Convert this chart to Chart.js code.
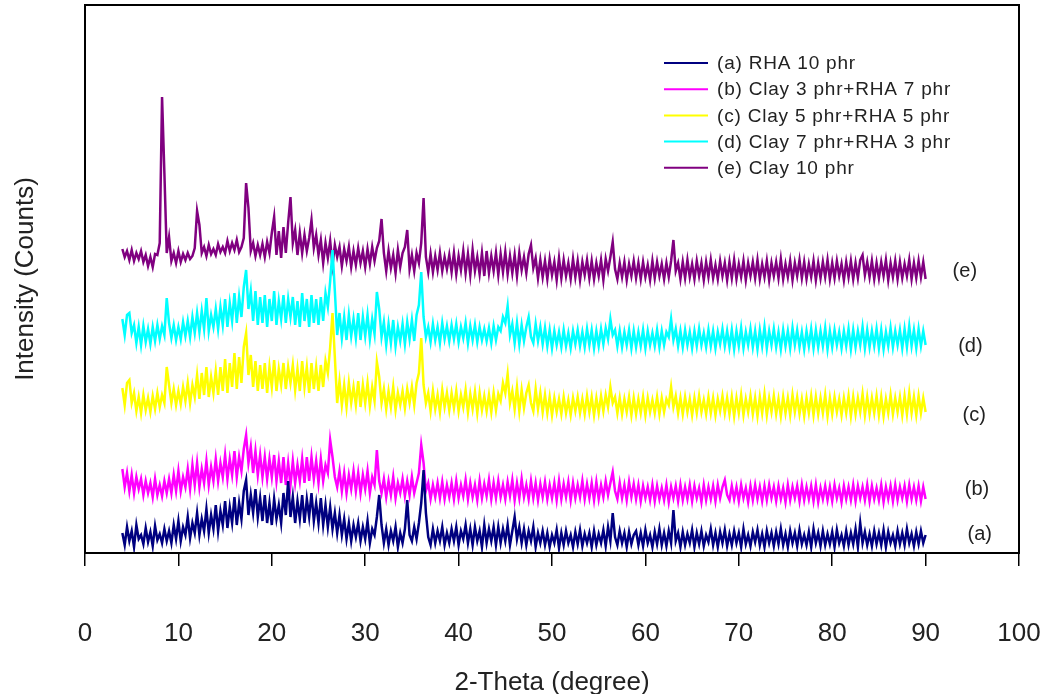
<!DOCTYPE html>
<html><head><meta charset="utf-8">
<script src="https://cdn.jsdelivr.net/npm/chart.js@4/dist/chart.umd.min.js"></script>
<style>html,body{margin:0;padding:0;background:#fff}canvas{display:block}</style>
</head><body>
<canvas id="c" width="1050" height="694"></canvas>
<script>
// 2-Theta sampling: 4° to 90°, every 0.25°
const angleStart = 4;
const angleStep = 0.25;

const seriesLabels = ['(a) RHA 10 phr', '(b) Clay 3 phr+RHA 7 phr', '(c) Clay 5 phr+RHA 5 phr', '(d) Clay 7 phr+RHA 3 phr', '(e) Clay 10 phr'];
const seriesColors = ['#000080', '#FF00FF', '#FFFF00', '#00FFFF', '#800080'];
const sideTags = ['(a)', '(b)', '(c)', '(d)', '(e)'];
const sideTagX = [95.8, 95.5, 95.2, 94.8, 94.2];
const sideTagY = [19, 64, 138, 207, 282];
const xTicks = [0, 10, 20, 30, 40, 50, 60, 70, 80, 90, 100];

// intensity (offset counts)
const rha10 = [
20,8,26,12,22,6,28,14,18,9,25,11,21,7,27,13,19,10,24,12,
22,10,28,14,32,12,26,18,36,15,30,20,40,18,34,22,44,20,38,24,
48,22,42,28,52,25,46,30,56,28,50,34,62,73,38,58,40,64,36,55,
32,58,30,50,28,54,34,48,30,60,38,72,36,56,30,52,34,58,30,54,
36,60,32,50,30,55,28,48,26,46,24,40,20,38,18,34,14,30,12,28,
16,30,12,26,14,32,10,24,18,36,58,28,10,24,8,22,12,26,6,20,
10,24,53,18,12,26,14,30,50,83,40,16,8,24,10,22,12,26,8,20,
10,24,12,26,8,22,14,28,10,24,8,26,12,22,6,28,10,24,12,26,
8,26,10,24,12,28,8,22,36,14,26,10,24,8,22,12,26,6,20,10,
22,8,20,6,18,10,23,5,20,8,22,10,18,6,21,9,23,7,19,10,
20,6,22,8,19,10,23,7,26,12,40,16,8,22,10,20,6,21,9,18,
22,8,20,7,23,10,18,6,21,9,24,8,20,7,22,10,43,12,20,6,
21,8,19,10,23,6,20,9,22,7,18,11,24,8,20,6,21,10,23,7,
19,8,22,10,20,6,24,9,18,7,21,11,23,8,19,6,22,10,20,7,
21,9,24,8,19,6,22,10,20,7,23,9,18,8,21,6,24,10,20,7,
22,8,19,9,21,6,23,10,18,7,22,8,20,9,24,6,30,10,21,8,
19,7,22,9,20,8,23,6,21,10,18,7,22,9,20,8,24,10,19,7,
21,9,22,10,18];

const clay3rha7 = [
84,66,80,62,78,60,76,64,74,58,72,60,70,56,74,58,68,57,72,60,
74,60,78,62,82,62,76,66,84,64,88,68,90,66,84,70,92,68,86,72,
94,72,90,76,98,74,94,78,102,76,96,82,104,118,90,106,80,102,78,98,
76,96,74,94,76,98,72,92,70,96,68,90,68,92,70,88,72,94,70,96,
72,96,74,92,70,94,72,88,80,113,96,76,66,82,62,80,60,78,64,82,
62,80,60,78,64,82,60,76,68,103,72,60,74,56,72,58,76,55,70,60,
74,57,72,58,76,60,70,80,108,90,62,70,54,68,56,70,55,71,54,68,
56,70,54,72,55,68,57,73,54,70,56,68,53,72,55,69,57,73,54,70,
55,72,56,68,54,71,57,73,53,70,55,74,56,68,54,72,55,70,53,69,
56,71,54,68,55,70,53,72,54,69,56,71,53,70,55,68,56,72,54,69,
55,70,53,71,54,68,56,72,58,70,81,62,54,70,55,68,53,71,56,69,
54,68,52,67,55,66,53,68,52,67,54,65,53,68,51,66,55,67,52,68,
53,66,54,68,52,67,55,65,51,68,53,66,54,67,52,68,55,66,73,58,
53,67,54,66,52,68,55,65,51,67,53,68,54,66,52,67,53,68,55,66,
52,67,54,65,51,68,53,66,55,67,52,68,53,66,54,67,52,68,51,65,
54,67,53,66,52,68,55,65,51,67,54,66,53,68,52,67,55,66,53,68,
52,67,54,65,53,68,51,66,54,67,52,68,53,66,55,67,52,68,54,66,
53,67,52,66,54];

const clay5rha5 = [
165,148,170,173,150,160,142,156,140,158,143,155,141,157,144,160,146,158,150,186,
168,150,164,148,162,149,166,152,170,150,168,156,178,154,180,158,186,156,176,160,
182,158,186,162,194,160,190,166,200,164,196,170,206,220,178,198,166,192,162,188,
164,190,160,186,166,193,162,184,168,190,164,186,170,188,163,184,162,192,166,186,
160,190,164,186,162,188,166,192,180,206,240,196,150,172,148,168,146,170,150,166,
148,172,146,168,150,170,147,166,152,191,176,150,164,144,162,146,166,143,160,148,
162,145,164,150,166,148,170,180,215,168,150,160,142,162,144,158,141,163,146,160,
143,160,145,162,142,158,146,163,141,159,144,161,140,160,143,157,142,158,141,160,
143,159,152,170,160,179,150,162,144,166,142,163,145,160,168,150,142,164,144,160,
141,158,140,156,138,155,141,154,139,156,140,153,138,155,142,156,140,154,139,157,
141,156,138,155,140,157,142,158,146,166,150,156,140,155,139,154,141,156,138,155,
139,154,140,156,138,155,141,153,140,156,139,155,141,154,148,166,146,157,140,155,
139,156,141,154,138,155,140,157,141,153,139,156,140,155,138,154,142,157,140,155,
139,156,137,155,140,158,138,154,141,157,139,155,137,156,140,159,138,155,141,157,
139,154,137,156,140,155,138,158,141,156,139,154,137,155,140,157,138,156,139,155,
140,158,137,155,139,156,141,154,138,155,140,157,137,156,139,155,141,159,138,156,
139,155,140,157,138,156,137,154,140,158,139,155,141,156,138,157,139,160,140,156,
138,157,140,155,141];

const clay7rha3 = [
234,218,238,240,220,228,210,226,208,227,211,224,209,226,212,228,214,227,218,255,
230,215,228,213,226,214,231,217,232,216,236,220,240,221,242,224,255,222,238,226,
244,224,246,228,254,226,250,232,260,230,256,236,266,283,244,262,232,262,228,256,
230,258,226,254,232,262,228,252,234,258,230,254,236,256,228,252,226,260,232,254,
226,258,230,254,228,256,232,260,246,272,303,262,218,240,215,236,213,238,217,234,
215,240,213,236,217,238,214,234,219,261,244,216,231,208,229,210,233,207,226,212,
229,209,231,214,233,212,238,248,281,236,216,226,211,229,213,226,210,230,214,227,
212,228,214,229,211,226,215,230,210,227,213,228,211,226,213,224,212,225,210,227,
213,226,222,236,230,247,218,229,210,230,209,228,212,226,236,216,210,229,212,226,
209,225,207,223,205,222,208,221,206,223,207,220,205,222,209,223,207,221,206,224,
208,223,205,222,207,224,209,225,214,234,218,223,207,222,206,221,208,223,205,222,
206,221,207,223,205,222,208,220,207,223,206,222,208,221,216,234,213,224,207,222,
206,223,208,221,205,222,207,224,208,220,206,223,207,222,205,221,209,224,207,222,
206,223,204,222,207,225,205,221,208,224,206,222,204,223,207,226,205,222,208,224,
206,221,204,223,207,222,205,225,208,223,206,221,204,222,207,224,205,223,206,222,
207,225,204,222,206,223,208,221,205,222,207,224,204,223,206,222,208,226,205,223,
206,222,207,224,205,223,204,221,207,225,206,222,208,223,205,224,206,227,207,223,
205,224,207,222,208];

const clay10 = [
304,296,302,293,303,292,300,294,302,291,298,287,296,286,299,298,310,456,380,300,
316,292,300,290,302,291,299,293,300,294,297,305,342,328,300,306,297,308,299,304,
298,309,301,306,300,312,302,310,303,313,301,306,315,370,345,302,310,297,308,298,
309,296,311,300,320,336,298,322,295,326,300,330,356,310,323,298,320,300,318,302,
315,333,305,318,298,313,290,310,295,312,288,308,296,306,287,304,292,306,286,302,
288,305,290,302,286,304,289,306,292,305,312,334,300,282,302,285,298,280,303,286,
300,306,323,284,298,282,300,290,310,355,296,281,299,281,297,283,300,282,296,284,
298,281,300,279,297,283,302,280,299,278,303,282,296,279,300,277,302,280,297,282,
300,278,299,281,301,279,297,280,298,277,300,283,296,280,299,308,285,295,275,293,
276,292,274,294,278,291,273,295,275,293,277,290,274,294,276,292,273,291,278,293,
275,292,274,290,277,293,273,294,282,296,311,284,274,290,276,291,273,289,277,292,
275,290,274,291,276,288,273,292,275,291,277,289,274,290,276,292,313,282,290,274,
291,275,293,276,289,274,292,277,290,273,291,276,293,275,288,274,292,277,290,273,
291,275,293,274,289,276,292,273,290,277,291,275,293,274,289,276,292,273,290,277,
291,275,294,274,289,276,292,273,290,277,293,275,291,274,289,276,292,273,290,275,
291,276,293,274,290,275,292,277,289,273,291,276,292,274,290,275,293,298,278,291,
276,292,274,290,275,291,277,293,273,290,276,292,274,291,275,289,277,293,274,290,
275,292,276,291,274];

const allSeries = [rha10, clay3rha7, clay5rha5, clay7rha3, clay10];
const angles = rha10.map((_, i) => angleStart + i * angleStep);

const FONT = '"Liberation Sans", Arial, sans-serif';
const TEXT = '#222';

const decor = {
  id: 'decor',
  afterDatasetsDraw(chart) {
    const {ctx, chartArea: a, scales} = chart;
    ctx.save();
    ctx.strokeStyle = '#000';
    ctx.lineWidth = 2;
    ctx.strokeRect(a.left, a.top, a.right - a.left, a.bottom - a.top);
    // curve tags on the right
    ctx.fillStyle = TEXT;
    ctx.font = '20px ' + FONT;
    ctx.textAlign = 'center';
    ctx.textBaseline = 'middle';
    sideTags.forEach((t, i) => {
      ctx.fillText(t, scales.x.getPixelForValue(sideTagX[i]), scales.y.getPixelForValue(sideTagY[i]));
    });
    // legend inside plot
    const lx = 664, ly = 63, row = 26.2, len = 44;
    ctx.textAlign = 'left';
    ctx.font = '19px ' + FONT;
    if ('letterSpacing' in ctx) ctx.letterSpacing = '0.8px';
    chart.data.datasets.forEach((ds, i) => {
      const y = ly + i * row;
      ctx.strokeStyle = ds.borderColor;
      ctx.lineWidth = 2;
      ctx.beginPath(); ctx.moveTo(lx, y); ctx.lineTo(lx + len, y); ctx.stroke();
      ctx.fillStyle = TEXT;
      ctx.fillText(ds.label, lx + len + 9, y + 1);
    });
    ctx.restore();
  }
};

new Chart(document.getElementById('c'), {
  type: 'line',
  data: {
    datasets: allSeries.map((vals, k) => ({
      label: seriesLabels[k],
      data: vals.map((v, i) => ({x: angles[i], y: v})),
      borderColor: seriesColors[k],
      backgroundColor: seriesColors[k],
      borderWidth: 2.5,
      pointRadius: 0,
      tension: 0,
      fill: false
    }))
  },
  options: {
    responsive: false,
    animation: false,
    devicePixelRatio: 1,
    layout: {padding: {top: 5, right: 31, left: 0, bottom: 0}},
    plugins: {legend: {display: false}, tooltip: {enabled: false}},
    scales: {
      x: {
        type: 'linear', min: 0, max: 100,
        afterBuildTicks: s => { s.ticks = xTicks.map(v => ({value: v})); },
        afterFit: s => { s.height = 141; s.paddingLeft = 0; s.paddingRight = 0; },
        border: {display: false},
        grid: {drawOnChartArea: false, drawTicks: true, tickLength: 13, color: '#000', lineWidth: 1.5},
        ticks: {font: {family: FONT, size: 26}, color: TEXT, padding: 52, maxRotation: 0},
        title: {display: true, text: '2-Theta (degree)', font: {family: FONT, size: 26}, color: TEXT, padding: {top: 0, bottom: -4}}
      },
      y: {
        min: 0, max: 548,
        afterFit: s => { s.width = 85; s.paddingTop = 0; s.paddingBottom = 0; },
        border: {display: false},
        grid: {display: false},
        ticks: {display: false},
        title: {display: true, text: 'Intensity (Counts)', font: {family: FONT, size: 26}, color: TEXT, padding: {top: 10, bottom: 0}}
      }
    }
  },
  plugins: [decor]
});
</script>
</body></html>
